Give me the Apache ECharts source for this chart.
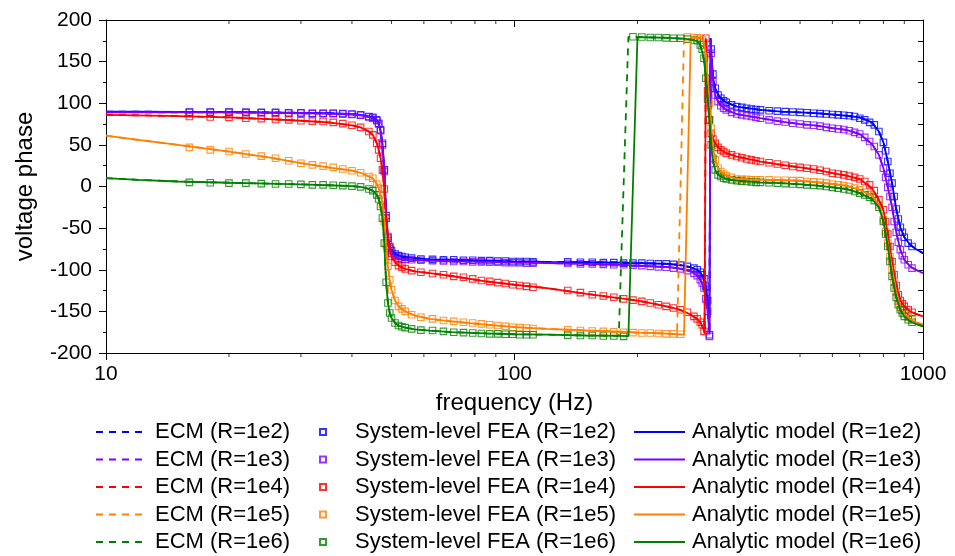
<!DOCTYPE html>
<html><head><meta charset="utf-8">
<script src="https://cdn.jsdelivr.net/npm/echarts@6/dist/echarts.min.js"></script>
<style>html,body{margin:0;padding:0;background:#fff}#c{width:955px;height:556px}</style>
</head><body><div id="c"></div>
<script>
const rLabels = ['1e2', '1e3', '1e4', '1e5', '1e6'];
const colors = ['#0000ff', '#8000ff', '#ff0000', '#ff8000', '#008000'];

const yTicks = [-200, -150, -100, -50, 0, 50, 100, 150, 200];
const xMinorTicks = [20, 30, 40, 50, 60, 70, 80, 90, 200, 300, 400, 500, 600, 700, 800, 900];

// frequency grid of the ECM and analytic curves (Hz)
const lineFreq = [10, 12, 15, 20, 25, 30, 35, 40, 42, 44, 45, 46, 46.5, 47, 47.5, 48, 48.5, 49, 49.5, 50,
  51, 52, 54, 57, 62, 70, 85, 100, 120, 150, 180, 190, 200, 220, 240, 250, 260, 270, 280, 285,
  290, 292, 294, 296, 298, 300, 302, 304, 307, 310, 315, 320, 330, 350, 400, 450, 500, 550, 600, 650,
  700, 750, 780, 800, 820, 840, 860, 880, 900, 930, 960, 1000];

const anaR1e2 = [90, 90, 89.5, 89.5, 89, 88.5, 88, 87, 86, 84, 83, 80, 76, 67, 51, 20, -35, -62, -72, -77,
  -81, -83, -85, -86, -87.5, -88, -89, -90, -90.5, -91, -91.5, -92, -92, -92.5, -93, -94, -95, -97, -100, -103,
  -110, -114, -120, -130, -145, -175, 178, 152, 128, 118, 110, 106, 101, 96, 92, 90, 89, 88, 86.5, 85,
  83, 77, 66, 53, 30, 4, -27, -49, -61, -70, -75, -80];
const anaR1e3 = [89, 89, 89, 89, 88.5, 88, 87.5, 86.5, 85.5, 83.5, 82, 79, 75, 66, 49, 18, -38, -65, -75, -80,
  -84, -86, -87.5, -88.5, -89, -90, -90.5, -91.5, -92, -93, -94, -94.5, -95, -96, -97, -98, -100, -102, -107, -112,
  -120, -126, -135, -145, -158, -178, 176, 144, 120, 110, 102, 97, 92, 87, 82, 78, 75, 73, 70, 68,
  63, 51, 38, 22, -1, -25, -55, -76, -88, -96, -100, -104];
const anaR1e4 = [86, 85.5, 84.5, 83, 81, 79, 77, 73.5, 71, 66, 62, 52, 44, 34, 20, -3, -38, -60, -74, -84,
  -91, -95, -99, -102, -104, -107.5, -114, -118, -122, -129, -134, -135.5, -137, -141, -145, -147, -150, -154, -159, -163,
  -171, -177, 178, 130, 100, 80, 68, 62, 56, 52, 47, 44, 40, 36, 30, 26, 23, 20, 16, 13,
  9, -2, -16, -28, -57, -90, -119, -137, -144, -150, -153, -156];
const anaR1e5 = [61, 56, 50, 42, 35, 28, 23, 19, 16.5, 12, 10, 3, -2, -10, -22, -42, -70, -96, -112, -124,
  -137, -144, -150, -155, -159, -162, -166, -169, -171, -173, -174.5, -175, -175.5, -176, -177, -177.5, -178, 179, 178.5, 178,
  175, 168, 158, 140, 120, 100, 80, 60, 44, 32, 22, 18, 13, 9, 8, 7.5, 7, 5, 3, 1,
  -4, -11, -22, -40, -68, -100, -127, -145, -153, -159, -163, -166];
const anaR1e6 = [10, 8, 6, 4.5, 3.5, 2.5, 1.5, 0.5, -0.5, -3, -5, -10, -15, -24, -38, -68, -115, -140, -152, -158,
  -164, -167, -169.5, -171.5, -173, -175, -176.5, -177.5, -178, -179, -179.5, -179.8, 179.5, 179, 178.5, 178, 177.5, 176.5, 175, 170,
  156, 145, 130, 115, 98, 80, 60, 42, 28, 20, 14, 12, 9, 7, 5, 4, 2.5, 1, -1, -3,
  -8, -15, -25, -42, -72, -108, -133, -148, -156, -162, -165, -168];

// ECM (equivalent circuit model) curves: same as the analytic ones except where the phase wraps
const ecmR1e2 = anaR1e2;
const ecmR1e3 = anaR1e3;
const ecmR1e4 = anaR1e4;
const ecmR1e5 = [61, 56, 50, 42, 35, 28, 23, 19, 16.5, 12, 10, 3, -2, -10, -22, -42, -70, -96, -112, -124,
  -137, -144, -150, -155, -159, -162, -166, -169, -171, -173, -174.5, -175, -175.5, -176, -177, -177.5, 179.2, 179, 178.5, 178,
  175, 168, 158, 140, 120, 100, 80, 60, 44, 32, 22, 18, 13, 9, 8, 7.5, 7, 5, 3, 1,
  -4, -11, -22, -40, -68, -100, -127, -145, -153, -159, -163, -166];
const ecmR1e6 = [10, 8, 6, 4.5, 3.5, 2.5, 1.5, 0.5, -0.5, -3, -5, -10, -15, -24, -38, -68, -115, -140, -152, -158,
  -164, -167, -169.5, -171.5, -173, -175, -176.5, -177.5, -178, -179, -179.5, 179.8, 179.5, 179, 178.5, 178, 177.5, 176.5, 175, 170,
  156, 145, 130, 115, 98, 80, 60, 42, 28, 20, 14, 12, 9, 7, 5, 4, 2.5, 1, -1, -3,
  -8, -15, -25, -42, -72, -108, -133, -148, -156, -162, -165, -168];

// system-level FEA sample frequencies (Hz)
const feaFreq = [16, 18, 20, 22, 24, 26, 28, 30, 32, 34, 36, 38, 40, 42, 44,
  45, 46, 46.5, 47, 47.5, 48, 48.5, 49, 49.5, 50, 51, 52, 53, 54, 56,
  59, 63, 67, 71, 75, 79, 83, 87, 91, 95, 99, 103, 107, 111,
  135, 145, 155, 165, 175, 185, 195, 205, 215, 225, 235, 245, 255,
  265, 275, 280, 285, 288, 291, 294, 297, 300, 303, 306, 310,
  315, 320, 325, 330, 340, 350, 360, 370, 380, 390, 400,
  420, 440, 460, 480, 500, 520, 540, 560, 580, 600, 620, 640, 660, 680, 700, 720, 740, 760, 780, 800,
  810, 820, 830, 840, 850, 860, 870, 880, 890, 900, 920, 940];

const feaR1e2 = [89.5, 89.5, 89.5, 89, 89, 89, 88.5, 88.5, 88, 88, 88, 87.5, 87, 86, 84,
  83, 80, 76, 68, 52, 20, -35, -62, -72, -77, -81, -83, -84, -85, -86,
  -87, -87.5, -88, -88, -88.5, -88.5, -89, -89, -89.5, -89.5, -90, -90, -90, -90.5,
  -90.5, -91, -91, -91.5, -91.5, -92, -92, -92, -92.5, -93, -93, -93.5, -94.5,
  -96, -98, -100, -103, -106, -111, -120, -137, -178, 165, 135, 118,
  110, 106, 103, 101, 98, 96, 95, 94, 93, 92.5, 92,
  91, 90.5, 90, 89.5, 89, 88.5, 88, 87.5, 87, 86.5, 86, 85.5, 85, 84, 82, 80, 77, 74, 66, 53,
  43, 30, 16, 4, -12, -27, -39, -49, -55, -61, -68, -72];
const feaR1e3 = [89, 89, 89, 89, 88.5, 88.5, 88, 88, 87.5, 87.5, 87.5, 87, 86.5, 85.5, 83.5,
  82, 79, 75, 67, 50, 18, -38, -65, -75, -80, -84, -86, -87, -87.5, -88,
  -88.5, -89, -89.5, -90, -90, -90.5, -90.5, -91, -91, -91.5, -91.5, -91.5, -92, -92,
  -92.5, -93, -93, -93.5, -94, -94, -94.5, -95, -96, -96.5, -97, -98, -99,
  -101, -104, -107, -112, -116, -122, -135, -150, -180, 160, 126, 110,
  102, 97, 94, 92, 89, 87, 86, 85, 84, 83, 82,
  80, 78.5, 77.5, 76, 75, 74, 73.5, 72.5, 71, 70, 69, 68.5, 67, 65, 63, 59, 54, 48, 38, 22,
  11, -1, -12, -25, -42, -55, -67, -76, -83, -88, -94, -98];
const feaR1e4 = [84, 83.5, 83, 82, 81.5, 80.5, 80, 79, 78.5, 78, 77, 75.5, 73.5, 71, 66,
  62, 52, 44, 34, 20, -3, -38, -60, -74, -84, -91, -95, -97, -99, -101,
  -103, -104.5, -106, -108, -109, -111, -113, -114, -115.5, -116.5, -118, -119, -120, -121,
  -125, -127.5, -130, -131.5, -133, -135, -136.5, -138, -140, -142, -144, -146, -148,
  -151, -156, -159, -163, -166, -174, 178, 115, 80, 64, 57, 52,
  47, 44, 42, 40, 38, 36, 34.5, 33, 32, 31, 30,
  28.5, 27, 25.5, 24, 23, 22, 21, 19.5, 18, 16, 15, 14, 12.5, 11, 9, 6, 2, -5, -16, -28,
  -42, -57, -72, -90, -106, -119, -130, -137, -141, -144, -148, -151];
const feaR1e5 = [47, 44, 42, 39, 36.5, 34, 31, 28, 26, 24.5, 23, 21, 19, 16.5, 12,
  10, 3, -2, -10, -22, -42, -70, -96, -112, -124, -137, -144, -147, -150, -154,
  -157, -159, -161, -162, -163, -164, -165, -166, -167, -168, -169, -169.5, -170, -170.5,
  -172, -173, -173.5, -174, -174.5, -175, -175.5, -176, -176, -176.5, -177, -177, -177.5,
  179.5, 179, 178.5, 178, 176, 172, 158, 130, 100, 70, 50, 32,
  22, 18, 15, 13, 11, 9, 8.5, 8.5, 8, 8, 8,
  8, 7.5, 7.5, 7, 7, 6, 5.5, 5, 4, 3, 2, 1, 0, -2, -4, -7, -10, -14, -22, -40,
  -54, -68, -84, -100, -115, -127, -138, -145, -149, -153, -157, -160];
const feaR1e6 = [5, 4.5, 4, 4, 3.5, 3, 3, 2.5, 2, 2, 1.5, 1, 0.5, -0.5, -3,
  -5, -10, -15, -24, -38, -68, -115, -140, -152, -158, -164, -167, -168.5, -169.5, -171,
  -172.5, -173, -174, -175, -175.5, -176, -176.5, -177, -177, -177.5, -177.5, -178, -178, -178,
  -178.5, -179, -179, -179.5, -179.5, -180, 179.8, 179.5, 179, 179, 178.5, 178, 178,
  177, 176, 175, 170, 165, 154, 130, 105, 80, 50, 34, 20,
  14, 12, 10, 9, 8, 7, 6.5, 6, 5.5, 5, 5,
  4.5, 4, 3.5, 3, 2.5, 2, 1.5, 1, 0, -1, -2, -3, -4, -6, -8, -10, -13, -17, -25, -42,
  -57, -72, -90, -108, -122, -133, -142, -148, -152, -156, -160, -163];

const anaSets = [anaR1e2, anaR1e3, anaR1e4, anaR1e5, anaR1e6];
const ecmSets = [ecmR1e2, ecmR1e3, ecmR1e4, ecmR1e5, ecmR1e6];
const feaSets = [feaR1e2, feaR1e3, feaR1e4, feaR1e5, feaR1e6];

const pairs = (xs, ys) => xs.map((x, i) => [x, ys[i]]);
const FONT = 'Liberation Sans, Arial, sans-serif';

const series = [];
rLabels.forEach((r, k) => {
  series.push({
    name: 'ECM (R=' + r + ')', type: 'line', symbol: 'none', data: pairs(lineFreq, ecmSets[k]),
    lineStyle: { color: colors[k], width: 1.8, type: [7, 6] }, itemStyle: { color: colors[k] }, z: 3
  });
  series.push({
    name: 'System-level FEA (R=' + r + ')', type: 'scatter', symbol: 'rect', symbolSize: 6.5,
    data: pairs(feaFreq, feaSets[k]),
    itemStyle: { color: 'rgba(255,255,255,0)', borderColor: colors[k], borderWidth: 1.1 }, z: 2
  });
  series.push({
    name: 'Analytic model (R=' + r + ')', type: 'line', symbol: 'none', data: pairs(lineFreq, anaSets[k]),
    lineStyle: { color: colors[k], width: 1.8 }, itemStyle: { color: colors[k] }, z: 3
  });
});
// minor ticks of the log frequency axis (bottom: outward, top: inward)
series.push({
  type: 'scatter', silent: true, clip: false, symbol: 'rect', symbolSize: [1, 4], symbolOffset: [0, 2],
  data: xMinorTicks.map(f => [f, yTicks[0]]), itemStyle: { color: '#000' }, z: 10
});
series.push({
  type: 'scatter', silent: true, clip: false, symbol: 'rect', symbolSize: [1, 4], symbolOffset: [0, 2],
  data: xMinorTicks.map(f => [f, yTicks[yTicks.length - 1]]), itemStyle: { color: '#000' }, z: 10
});

const legendText = { fontFamily: FONT, fontSize: 22, lineHeight: 22, color: '#000' };
const option = {
  animation: false,
  backgroundColor: '#fff',
  grid: { left: 106, right: 32, top: 20, bottom: 203, containLabel: false },
  xAxis: [{
    type: 'log', logBase: 10, min: 10, max: 1000, position: 'bottom',
    axisLine: { show: true, onZero: false, lineStyle: { color: '#000', width: 1 } },
    axisTick: { show: true, inside: false, length: 7, lineStyle: { color: '#000' } },
    axisLabel: { fontFamily: FONT, fontSize: 21, color: '#000', margin: 11, formatter: v => String(Math.round(v)) },
    splitLine: { show: false },
    name: 'frequency (Hz)', nameLocation: 'middle', nameGap: 38,
    nameTextStyle: { fontFamily: FONT, fontSize: 24, color: '#000' }
  }, {
    type: 'log', logBase: 10, min: 10, max: 1000, position: 'top',
    axisLine: { show: true, onZero: false, lineStyle: { color: '#000', width: 1 } },
    axisTick: { show: true, inside: true, length: 7, lineStyle: { color: '#000' } },
    axisLabel: { show: false }, splitLine: { show: false }
  }],
  yAxis: [{
    type: 'value', min: -200, max: 200, interval: 50, position: 'left',
    axisLine: { show: true, onZero: false, lineStyle: { color: '#000', width: 1 } },
    axisTick: { show: true, inside: false, length: 7, lineStyle: { color: '#000' } },
    minorTick: { show: true, splitNumber: 2, length: 3, lineStyle: { color: '#000' } },
    axisLabel: { fontFamily: FONT, fontSize: 21, color: '#000', margin: 14 },
    splitLine: { show: false },
    name: 'voltage phase', nameLocation: 'middle', nameGap: 69,
    nameTextStyle: { fontFamily: FONT, fontSize: 24, color: '#000' }
  }, {
    type: 'value', min: -200, max: 200, interval: 25, position: 'right',
    axisLine: { show: true, onZero: false, lineStyle: { color: '#000', width: 1 } },
    axisTick: { show: true, inside: true, length: 5, lineStyle: { color: '#000' } },
    axisLabel: { show: false }, splitLine: { show: false }
  }],
  legend: [{
    orient: 'vertical', left: 95, top: 421, padding: 0, itemWidth: 48, itemHeight: 14, itemGap: 5.5,
    data: rLabels.map(r => 'ECM (R=' + r + ')'),
    itemStyle: { opacity: 0 },
    textStyle: Object.assign({ padding: [0, 0, 0, 6] }, legendText), selectedMode: false
  }, {
    orient: 'vertical', left: 319, top: 421, padding: 0, itemWidth: 6, itemHeight: 6, itemGap: 5.5,
    data: rLabels.map(r => 'System-level FEA (R=' + r + ')'),
    textStyle: Object.assign({ padding: [0, 0, 0, 24] }, legendText), selectedMode: false
  }, {
    orient: 'vertical', left: 633, top: 421, padding: 0, itemWidth: 51, itemHeight: 14, itemGap: 5.5,
    data: rLabels.map(r => 'Analytic model (R=' + r + ')'),
    itemStyle: { opacity: 0 },
    textStyle: Object.assign({ padding: [0, 0, 0, 2] }, legendText), selectedMode: false
  }],
  series: series
};
const chart = echarts.init(document.getElementById('c'), null, { renderer: 'canvas' });
chart.setOption(option);
</script>
</body></html>
